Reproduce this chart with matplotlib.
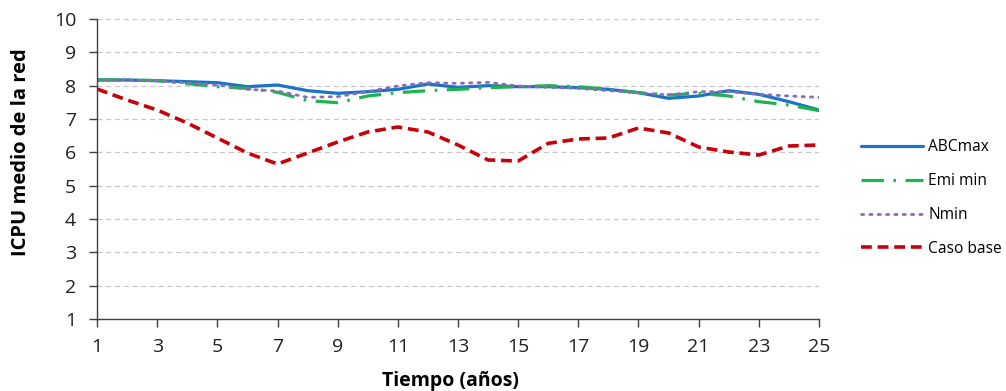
import matplotlib
matplotlib.use("Agg")
import matplotlib.pyplot as plt
import numpy as np

plt.rcParams['font.family'] = ['Open Sans', 'DejaVu Sans']

years = list(range(1, 26))
abcmax = [8.17, 8.17, 8.15, 8.12, 8.09, 7.97, 8.02, 7.85, 7.77, 7.82, 7.89, 8.05, 7.95,
          8.00, 7.97, 7.97, 7.94, 7.89, 7.79, 7.62, 7.69, 7.85, 7.74, 7.52, 7.27]
emimin = [8.17, 8.17, 8.15, 8.06, 7.97, 7.92, 7.80, 7.55, 7.49, 7.69, 7.79, 7.85, 7.89,
          7.94, 7.97, 8.00, 7.97, 7.89, 7.79, 7.72, 7.77, 7.69, 7.52, 7.42, 7.25]
nmin = [8.17, 8.17, 8.15, 8.08, 8.02, 7.89, 7.84, 7.65, 7.67, 7.82, 7.99, 8.09, 8.07,
        8.10, 7.99, 7.95, 7.92, 7.85, 7.79, 7.72, 7.82, 7.82, 7.74, 7.69, 7.65]
caso_base = [7.90, 7.57, 7.27, 6.88, 6.43, 5.98, 5.65, 5.98, 6.31, 6.61, 6.76, 6.61, 6.22,
             5.77, 5.74, 6.27, 6.40, 6.43, 6.73, 6.58, 6.16, 6.01, 5.92, 6.19, 6.22]
xticks = list(range(1, 26, 2))
yticks = list(range(1, 11))

fig = plt.figure(figsize=(10.06, 3.91), dpi=100)
ax = fig.add_axes([97/1006, 1-319/391, (819-97)/1006, (319-19)/391])

ax.plot(years, abcmax, color='#1a73c8', lw=2.3, label='ABCmax', solid_capstyle='round')
ax.plot(years, emimin, color='#1db34f', lw=2.3, dashes=(7, 3, 0.8, 3), label='Emi min')
ax.plot(years, nmin, color='#8a6cb4', lw=2.0, linestyle=(0, (0.8, 2.2)), label='Nmin',
        dash_capstyle='round')
ax.plot(years, caso_base, color='#c8000a', lw=2.6, dashes=(3, 1.6), label='Caso base')

ax.set_xlim(1, 25)
ax.set_ylim(1, 10)
ax.set_xticks(xticks)
ax.set_yticks(yticks)
ax.yaxis.grid(True, color='#c8c8c8', linestyle=(0, (4, 3)), lw=0.9)
ax.set_axisbelow(True)
for s in ['top', 'right']:
    ax.spines[s].set_visible(False)
for s in ['left', 'bottom']:
    ax.spines[s].set_color('#404040')
    ax.spines[s].set_linewidth(1.0)
ax.tick_params(axis='both', labelsize=14, colors='#404040', length=6, width=1.0,
               labelcolor='#202020')
ax.tick_params(axis='x', pad=8)
ax.tick_params(axis='y', pad=9)
ax.set_xlabel('Tiempo (años)', fontsize=14, fontweight='bold', va='center')
ax.xaxis.set_label_coords((450-97)/722, -(381-319)/300)
ax.set_ylabel('ICPU medio de la red', fontsize=14.5, fontweight='bold', va='center')
ax.yaxis.set_label_coords((21-97)/722, (319-152)/300)

leg = fig.legend(loc='upper left', bbox_to_anchor=(855/1006, 1-133/391), frameon=False,
                 fontsize=11.2, handlelength=4.0, handletextpad=0.3, labelspacing=1.15,
                 borderaxespad=0)

fig.savefig('out.png', dpi=100)
